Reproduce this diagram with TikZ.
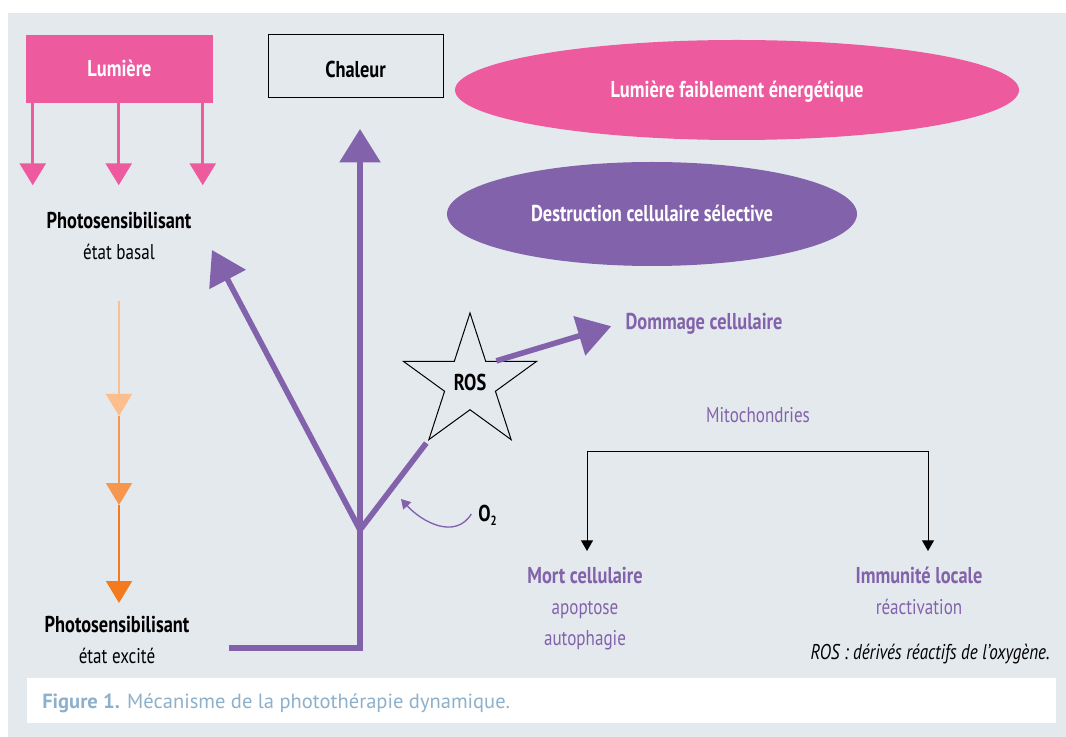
\documentclass[tikz,border=0pt]{standalone}
\usepackage{fontspec}
\setmainfont{PT Sans}[FakeStretch=0.8]
\newfontfamily\capfont{PT Sans}
\usetikzlibrary{arrows.meta,shapes.geometric}
\definecolor{panel}{HTML}{E4E9EE}
\definecolor{rose}{HTML}{EE5A9E}
\definecolor{violet}{HTML}{8262AA}
\definecolor{orangeA}{HTML}{FDBE8E}
\definecolor{orangeB}{HTML}{F7964F}
\definecolor{orangeC}{HTML}{F47A20}
\definecolor{legende}{HTML}{8DB0CB}
\begin{document}
\begin{tikzpicture}[x=0.75pt,y=-0.75pt,
  every node/.style={font=\fontsize{16}{19}\selectfont, inner sep=0pt, text height=11pt, text depth=0pt},
  fort/.style={font=\fontsize{17.2}{20}\selectfont\bfseries},
  rosearrow/.style={rose, line width=2.25pt, -{Triangle[width=19.5pt,length=16.5pt]}},
  orangearrow/.style={line width=1.5pt, -{Triangle[width=19.5pt,length=16.5pt]}},
  fat/.style={violet, line width=4.2pt},
  fatarrow/.style={fat, -{Triangle[width=30pt,length=25pt]}},
  blackarrow/.style={line width=0.75pt, {Triangle[width=9pt,length=8pt]}-{Triangle[width=9pt,length=8pt]}}]
\useasboundingbox (0,0) rectangle (1066,737);
\fill[panel] (8,13) rectangle (1066,737);
\fill[white] (27,678) rectangle (1056,723);
% boxes and ellipses
\node[fort, fill=rose, text=white, minimum width=140.25pt, minimum height=51pt] (lumiere) at (119.5,69) {Lumière};
\node[fort, draw, line width=0.75pt, minimum width=131.25pt, minimum height=47.25pt, text height=16pt] (chaleur) at (355.5,66.5) {Chaleur};
\node[fort, ellipse, fill=rose, text=white, minimum width=423pt, minimum height=75pt] (faible) at (737,90) {Lumière faiblement énergétique};
\node[fort, ellipse, fill=violet, text=white, minimum width=307.5pt, minimum height=78pt] (destruction) at (652,214) {Destruction cellulaire sélective};
% photosensibilisant
\node[fort] (basal) at (119,221) {Photosensibilisant};
\node (basalsub) at (119,252) {état basal};
\node[fort] (excite) at (117,625) {Photosensibilisant};
\node (excitesub) at (117,656) {état excité};
\foreach \dx in {7,93,177}
  \draw[rosearrow] ([xshift=\dx*0.75pt]lumiere.south west) -- ++(0,82);
\coordinate (o0) at (119,301);
\coordinate (o1) at (119,416);
\coordinate (o2) at (119,505);
\coordinate (o3) at (119,603);
\draw[orangearrow, orangeA] (o0) -- (o1);
\draw[orangearrow, orangeB] (o1) -- (o2);
\draw[orangearrow, orangeC] (o2) -- (o3);
% ROS
\node[fort, star, star points=5, star point ratio=2.618, draw, line width=0.75pt, minimum size=105pt] (ros) at (470,383) {ROS};
\node[fort, text=violet] (dommage) at (704,322) {Dommage cellulaire};
\node[fort, anchor=west] (oxy) at (478,514) {O\raisebox{-0.4ex}{\fontsize{10}{10}\selectfont 2}};
\coordinate (src) at (229,648);
\coordinate (fork) at (360,530);
\coordinate (heat) at (360,129);
\coordinate (back) at (212,250);
\draw[fatarrow] (src) -| (heat);
\draw[fatarrow] (fork) -- (back);
\draw[fat, shorten >=2pt] (fork) -- (ros.outer point 3);
\draw[fatarrow, shorten >=11pt] (ros.40) -- (dommage.west);
\draw[violet, line width=1pt, -{Triangle[width=8pt,length=7pt]}] ([xshift=-5pt]oxy.west) .. controls (455,540) and (422,522) .. (401,499);
% mitochondries
\node[text=violet] (mito) at (758,415) {Mitochondries};
\node[fort, text=violet] (mort) at (585,576) {Mort cellulaire};
\node[text=violet] (apoptose) at (585,607) {apoptose};
\node[text=violet] (autophagie) at (585,638) {autophagie};
\node[fort, text=violet] (immunite) at (919,576) {Immunité locale};
\node[text=violet] (reactivation) at (919,607) {réactivation};
\coordinate (bl) at (587,551);
\coordinate (br) at (928,551);
\draw[blackarrow] (bl) -- ++(0,-100) -| (br);
\node[anchor=east, font=\fontsize{16}{19}\selectfont\itshape] (note) at (1050,652) {ROS : dérivés réactifs de l’oxygène.};
\node[anchor=west, text=legende, font=\capfont\fontsize{15.4}{18}\selectfont] (legende) at (42,701) {\textbf{Figure 1.} Mécanisme de la photothérapie dynamique.};
\end{tikzpicture}
\end{document}
